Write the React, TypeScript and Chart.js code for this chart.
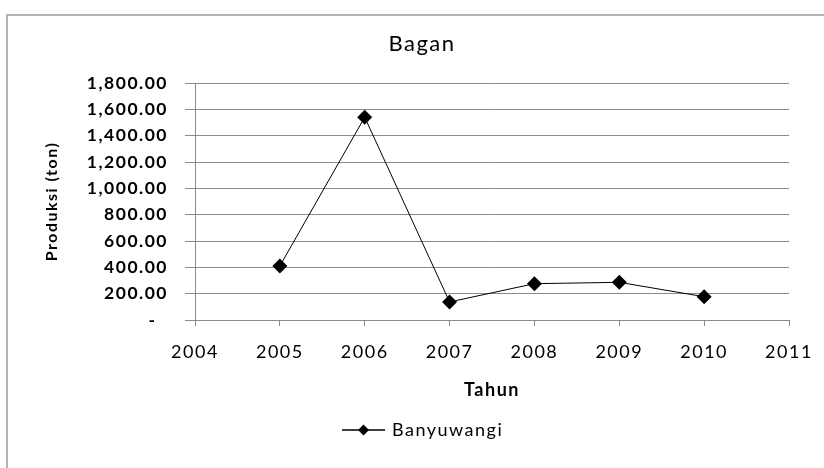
import React, { useEffect, useRef } from "react";
import { Chart, registerables } from "chart.js";

Chart.register(...registerables);

// ---- data ----
const years = [2005, 2006, 2007, 2008, 2009, 2010];
const produksi = [410, 1540, 137, 276, 286, 177];
const seriesName = "Banyuwangi";
const chartTitle = "Bagan";
const xTitle = "Tahun";
const yTitle = "Produksi (ton)";
const xMin = 2004;
const xMax = 2011;
const yMin = 0;
const yMax = 1800;
const yStep = 200;

const FONT = "Lato, 'Open Sans', sans-serif";
const GRID = "#8a8a8a";
const SPACING = "1.5px";

const spacingPlugin = {
  id: "spacing",
  beforeUpdate(chart: any) {
    chart.ctx.letterSpacing = SPACING;
  },
  beforeDraw(chart: any) {
    chart.ctx.letterSpacing = SPACING;
  },
};

const framePlugin = {
  id: "frame",
  beforeDraw(chart: any) {
    const ctx = chart.ctx;
    ctx.save();
    ctx.fillStyle = "#ffffff";
    ctx.fillRect(0, 0, chart.width, chart.height);
    ctx.strokeStyle = "#b2b2b2";
    ctx.lineWidth = 2;
    ctx.beginPath();
    ctx.moveTo(7, chart.height);
    ctx.lineTo(7, 15);
    ctx.lineTo(chart.width, 15);
    ctx.stroke();
    ctx.restore();
  },
};

const lineLegendPlugin = {
  id: "lineLegend",
  afterDraw(chart: any) {
    const ctx = chart.ctx;
    const ds = chart.data.datasets[0];
    const cy = 430;
    const x0 = 342;
    const x1 = 385;
    const cx = (x0 + x1) / 2;
    ctx.save();
    ctx.strokeStyle = "#000";
    ctx.lineWidth = 1.5;
    ctx.beginPath();
    ctx.moveTo(x0, cy);
    ctx.lineTo(x1, cy);
    ctx.stroke();
    const r = 5.5;
    ctx.fillStyle = "#000";
    ctx.beginPath();
    ctx.moveTo(cx - r, cy);
    ctx.lineTo(cx, cy - r);
    ctx.lineTo(cx + r, cy);
    ctx.lineTo(cx, cy + r);
    ctx.closePath();
    ctx.fill();
    ctx.font = `normal 18px ${FONT}`;
    ctx.fillStyle = "#000";
    ctx.textAlign = "left";
    ctx.textBaseline = "middle";
    ctx.fillText(ds.label, x1 + 7, cy);
    ctx.restore();
  },
};

export default function App() {
  const canvasRef = useRef<HTMLCanvasElement | null>(null);

  useEffect(() => {
    const canvas = canvasRef.current;
    if (!canvas) return;
    const chart = new Chart(canvas, {
      type: "line",
      data: {
        datasets: [
          {
            label: seriesName,
            data: years.map((y, i) => ({ x: y, y: produksi[i] })),
            borderColor: "#000000",
            backgroundColor: "#000000",
            borderWidth: 1,
            pointStyle: "rectRot",
            pointRadius: 7.5,
            pointBackgroundColor: "#000000",
            pointBorderColor: "#000000",
            pointBorderWidth: 0,
            tension: 0,
          },
        ],
      },
      options: {
        responsive: false,
        animation: false,
        layout: { padding: { left: 55, right: 35, top: 0, bottom: 0 } },
        plugins: {
          legend: { display: false },
          tooltip: { enabled: false },
          title: {
            display: true,
            text: chartTitle,
            color: "#000",
            font: { family: FONT, size: 22, weight: "normal" },
            padding: { top: 30.8, bottom: 25.8 },
          },
        },
        scales: {
          x: {
            type: "linear",
            min: xMin,
            max: xMax,
            afterFit(scale: any) {
              scale.height = 148;
              scale.paddingLeft = 0;
              scale.paddingRight = 0;
            },
            ticks: {
              stepSize: 1,
              autoSkip: false,
              maxRotation: 0,
              color: "#000",
              padding: 15,
              font: { family: FONT, size: 18 },
              callback: (v: any) => String(v),
            },
            grid: {
              display: true,
              drawOnChartArea: false,
              drawTicks: true,
              tickLength: 6,
              color: GRID,
            },
            border: { display: true, color: GRID, width: 1 },
            title: {
              display: true,
              text: xTitle,
              color: "#000",
              font: { family: FONT, size: 18, weight: "bold" },
              padding: { top: 0, bottom: 67 },
            },
          },
          y: {
            type: "linear",
            min: yMin,
            max: yMax,
            afterFit(scale: any) {
              scale.width = 140;
            },
            ticks: {
              stepSize: yStep,
              color: "#000",
              padding: 17,
              font: { family: FONT, size: 17.5, weight: "bold" },
              callback: (v: any) =>
                Number(v) === 0
                  ? "-  "
                  : Number(v).toLocaleString("en-US", {
                      minimumFractionDigits: 2,
                      maximumFractionDigits: 2,
                    }),
            },
            grid: {
              display: true,
              drawOnChartArea: true,
              drawTicks: true,
              tickLength: 10,
              color: GRID,
            },
            border: { display: true, color: GRID, width: 1 },
            title: {
              display: true,
              text: yTitle,
              color: "#000",
              font: { family: FONT, size: 16, weight: "bold" },
              padding: { top: -12.6, bottom: 0 },
            },
          },
        },
      },
      plugins: [spacingPlugin, framePlugin, lineLegendPlugin],
    } as any);
    return () => chart.destroy();
  }, []);

  return (
    <div style={{ position: "fixed", left: 0, top: 0, width: 824, height: 468 }}>
      <canvas ref={canvasRef} width={824} height={468} style={{ display: "block" }} />
    </div>
  );
}
